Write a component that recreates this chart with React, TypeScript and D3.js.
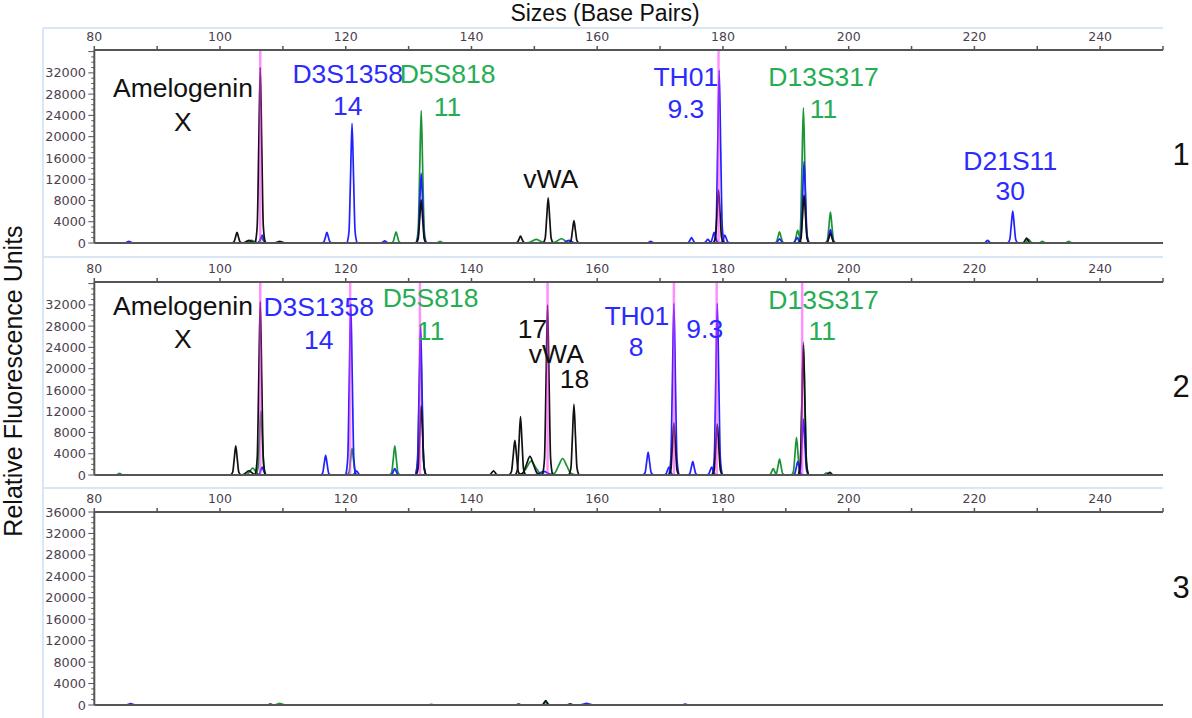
import React from "react";
import * as d3 from "d3";

// ---------- data ----------
const SIZE_DOMAIN: [number, number] = [80, 250];
const X_MAJOR_TICKS = [80, 100, 120, 140, 160, 180, 200, 220, 240];
const X_MINOR_TICKS = [90, 110, 130, 150, 170, 190, 210, 230, 250];
const Y_LABELS_12 = [0, 4000, 8000, 12000, 16000, 20000, 24000, 28000, 32000];
const Y_LABELS_3 = [0, 4000, 8000, 12000, 16000, 20000, 24000, 28000, 32000, 36000];

// peaks: [size (bp), height (RFU), half width (bp)]
type Peak = [number, number, number?];

const P1_BLACK: Peak[] = [
  [102.7, 2000], [104.6, 500, 1.4], [106.4, 33000], [109.5, 300, 1.2], [132.0, 8100],
  [147.8, 1300], [152.2, 8500], [156.3, 4200], [179.3, 10000], [192.9, 9000],
  [197.1, 1800], [228.3, 900],
];
const P1_BLUE: Peak[] = [
  [85.5, 300, 1.0], [106.7, 1500], [117.0, 2000], [121.0, 22500], [126.2, 400],
  [132.0, 13100], [155.5, 500, 1.4], [168.5, 300], [175.0, 1000], [177.6, 700],
  [178.6, 2000], [179.4, 32500], [180.3, 1500], [189.0, 800], [191.8, 1000],
  [192.9, 15300], [197.1, 2500], [222.1, 500], [226.1, 6000],
];
const P1_GREEN: Peak[] = [
  [105.0, 500, 1.5], [106.6, 1000], [128.0, 2100], [132.0, 24900], [135.0, 300],
  [150.3, 700, 2.0], [154.3, 800, 2.0], [189.0, 2100], [191.9, 2400], [192.8, 25400],
  [197.1, 5800], [228.6, 700], [230.8, 300], [235.0, 300],
];
const P1_MARKERS = [106.4, 179.3];

const P2_BLACK: Peak[] = [
  [102.5, 5500], [104.6, 800, 1.5], [106.4, 32600], [132.0, 13000], [143.5, 800, 0.9],
  [146.9, 6500, 0.9], [147.8, 11000], [149.3, 3500, 1.9], [152.1, 32000], [156.3, 13300],
  [172.2, 9800], [179.1, 9600], [192.8, 24500], [197.0, 500],
];
const P2_BLUE: Peak[] = [
  [106.7, 1500], [116.8, 3700], [120.8, 32300], [121.7, 800], [127.8, 1200],
  [131.9, 28300], [151.5, 700, 2.0], [168.1, 4300], [171.4, 1500], [172.2, 32300],
  [175.2, 2500], [178.2, 1500], [179.1, 32300], [191.9, 2500], [192.8, 10500],
];
const P2_GREEN: Peak[] = [
  [84.0, 300], [105.2, 1300, 1.5], [106.5, 12000], [121.0, 5000], [127.8, 5500],
  [131.9, 25000], [149.5, 2600, 2.4], [154.5, 3100, 2.2], [188.0, 1200], [189.0, 3000],
  [191.7, 7100], [192.8, 25000], [196.5, 400],
];
const P2_MARKERS = [106.4, 120.7, 131.8, 152.1, 172.2, 179.0, 192.6];

const P3_BLACK: Peak[] = [[108.0, 150], [147.5, 150], [151.8, 800], [155.7, 200]];
const P3_BLUE: Peak[] = [[85.8, 250, 1.2], [158.3, 300, 1.5], [174.0, 150]];
const P3_GREEN: Peak[] = [[109.5, 300, 1.2], [133.6, 100], [151.8, 500]];
const P3_MARKERS: number[] = [];

// annotations: [text, size (bp), RFU, colour key]
type Ann = [string, number, number, string];
const P1_LABELS: Ann[] = [
  ["Amelogenin", 94.1, 27460, "black"], ["X", 94.1, 21065, "black"],
  ["D3S1358", 120.3, 30090, "blue"], ["14", 120.3, 24075, "blue"],
  ["D5S818", 136.2, 30090, "green"], ["11", 136.2, 23886, "green"],
  ["vWA", 152.6, 10344, "black"],
  ["TH01", 174.1, 29528, "blue"], ["9.3", 174.1, 23510, "blue"],
  ["D13S317", 196.0, 29528, "green"], ["11", 196.0, 23510, "green"],
  ["D21S11", 225.7, 13730, "blue"], ["30", 225.7, 8087, "blue"],
];
const P2_LABELS: Ann[] = [
  ["Amelogenin", 94.1, 30093, "black"], ["X", 94.1, 23886, "black"],
  ["D3S1358", 115.7, 29905, "blue"], ["14", 115.7, 23698, "blue"],
  ["D5S818", 133.5, 31597, "green"], ["11", 133.5, 25391, "green"],
  ["17", 149.7, 25767, "black"], ["vWA", 153.5, 21065, "black"], ["18", 156.4, 16363, "black"],
  ["TH01", 166.3, 28212, "blue"], ["8", 166.2, 22382, "blue"],
  ["9.3", 177.1, 25767, "blue"],
  ["D13S317", 196.0, 31221, "green"], ["11", 195.8, 25391, "green"],
];
const P3_LABELS: Ann[] = [];

const PANEL_NUMBERS = ["1", "2", "3"];

// ---------- styles ----------
const TRACE_COLORS: Record<string, string> = { green: "#1a9436", blue: "#2121ff", black: "#111111" };
const LABEL_COLORS: Record<string, string> = { green: "#25ad52", blue: "#2b2bff", black: "#111111" };
const AXIS = "#555555";
const TICK_TEXT = "#4b3f4f";
const FRAME = "#d9e6f6";
const SANS = "'Liberation Sans', Arial, sans-serif";
const TICK_FONT = "'DejaVu Sans', Verdana, sans-serif";

// peak outline template (relative offset in half widths, relative height)
const PROFILE: [number, number][] = [
  [-1, 0], [-0.6, 0.1], [-0.3, 0.55], [0, 1], [0.3, 0.55], [0.6, 0.1], [1, 0],
];

const PANELS = [
  { top: 50, bottom: 243, max: 36300, black: P1_BLACK, blue: P1_BLUE, green: P1_GREEN, markers: P1_MARKERS, labels: P1_LABELS, yLabels: Y_LABELS_12, numRfu: 14670 },
  { top: 282, bottom: 475, max: 36300, black: P2_BLACK, blue: P2_BLUE, green: P2_GREEN, markers: P2_MARKERS, labels: P2_LABELS, yLabels: Y_LABELS_12, numRfu: 14670 },
  { top: 512, bottom: 705, max: 36000, black: P3_BLACK, blue: P3_BLUE, green: P3_GREEN, markers: P3_MARKERS, labels: P3_LABELS, yLabels: Y_LABELS_3, numRfu: 20000 },
];

export default function App() {
  const x = d3.scaleLinear().domain(SIZE_DOMAIN).range([94.3, 1163]);
  const [x0, x1] = x.range();

  return (
    <svg width={1192} height={718} style={{ position: "absolute", left: 0, top: 0, background: "#fff" }}>
      {/* outer pale frames */}
      <line x1={43} x2={43} y1={28} y2={718} stroke={FRAME} strokeWidth={2} />
      {[28, 257, 488].map((yy) => (
        <line key={yy} x1={43} x2={x1} y1={yy} y2={yy} stroke={FRAME} strokeWidth={2} />
      ))}

      <text x={605} y={21} textAnchor="middle" fontFamily={SANS} fontSize={23} fill="#111">Sizes (Base Pairs)</text>
      <text transform={`translate(22,381) rotate(-90)`} textAnchor="middle" fontFamily={SANS} fontSize={25} fill="#111">Relative Fluorescence Units</text>

      {PANELS.map((p, pi) => {
        const y = d3.scaleLinear().domain([0, p.max]).range([p.bottom, p.top]);
        const minorY = d3.range(0, p.max + 1, 1000);
        const peakPath = (pk: Peak) => {
          const [s, h, w0] = pk;
          const w = w0 ?? 0.8;
          const line = d3.line<[number, number]>()
            .x((d) => x(s + d[0] * w))
            .y((d) => y(h * d[1]))
            .curve(d3.curveMonotoneX);
          return line(PROFILE) || "";
        };
        return (
          <g key={pi}>
            {/* top axis */}
            <line x1={x0} x2={x1} y1={p.top} y2={p.top} stroke={AXIS} strokeWidth={2} />
            {X_MAJOR_TICKS.map((t) => (
              <g key={"M" + t}>
                <line x1={x(t)} x2={x(t)} y1={p.top} y2={p.top - 4} stroke={AXIS} strokeWidth={1.5} />
                <text x={x(t)} y={p.top - 9} textAnchor="middle" fontFamily={TICK_FONT} fontSize={12.5} fill={TICK_TEXT}>{t}</text>
              </g>
            ))}
            {X_MINOR_TICKS.map((t) => (
              <line key={"m" + t} x1={x(t)} x2={x(t)} y1={p.top} y2={p.top - 4} stroke={AXIS} strokeWidth={1.5} />
            ))}
            {/* left axis */}
            <line x1={x0} x2={x0} y1={p.top} y2={p.bottom} stroke={AXIS} strokeWidth={2} />
            {minorY.map((v) => (
              <line key={"ym" + v} x1={x0} x2={x0 - (v % 4000 === 0 ? 6 : 3)} y1={y(v)} y2={y(v)} stroke={AXIS} strokeWidth={1} />
            ))}
            {p.yLabels.map((v) => (
              <text key={"yl" + v} x={86} y={y(v)} dy="0.36em" textAnchor="end" fontFamily={TICK_FONT} fontSize={12.8} fill={TICK_TEXT}>{v}</text>
            ))}

            {/* traces */}
            {(["green", "blue", "black"] as const).map((dye) => (
              <g key={dye} fill="none" stroke={TRACE_COLORS[dye]} strokeWidth={1.7} strokeLinejoin="round">
                {(p[dye] as Peak[]).map((pk, i) => (
                  <path key={i} d={peakPath(pk)} />
                ))}
              </g>
            ))}

            {/* zero line */}
            <line x1={x0} x2={x1} y1={p.bottom} y2={p.bottom} stroke={AXIS} strokeWidth={2} />

            {/* allele call markers */}
            {p.markers.map((m, i) => (
              <line key={"mk" + i} x1={x(m)} x2={x(m)} y1={p.top + 1} y2={p.bottom - 1} stroke="#ff33ff" strokeOpacity={0.55} strokeWidth={2.5} />
            ))}

            {/* annotations */}
            {p.labels.map(([t, s, v, c], i) => (
              <text key={"a" + i} x={x(s)} y={y(v)} textAnchor="middle" fontFamily={SANS} fontSize={26.5} fill={LABEL_COLORS[c]}>{t}</text>
            ))}

            <text x={1181} y={y(p.numRfu)} textAnchor="middle" fontFamily={SANS} fontSize={31} fill="#111">{PANEL_NUMBERS[pi]}</text>
          </g>
        );
      })}
    </svg>
  );
}
